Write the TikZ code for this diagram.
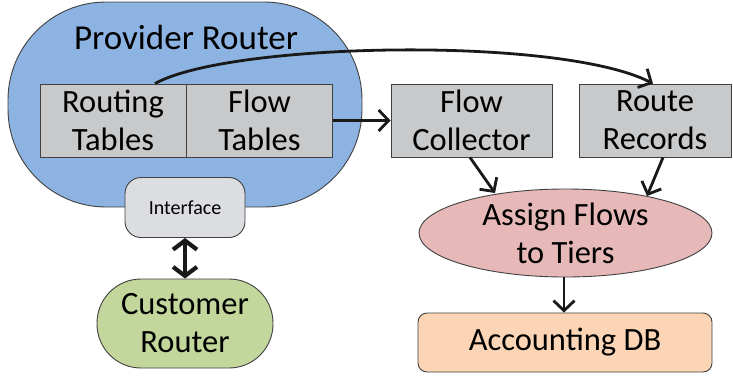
\documentclass[tikz,border=0pt]{standalone}
\usepackage{fontspec}
\setmainfont{Carlito}
\usetikzlibrary{arrows.meta,shapes.geometric}
\definecolor{provblue}{HTML}{8DB3E2}
\definecolor{boxgray}{HTML}{C8C9CB}
\definecolor{ifgray}{HTML}{DCDDE0}
\definecolor{custgreen}{HTML}{C3D69B}
\definecolor{assignpink}{HTML}{E6B9B8}
\definecolor{dbpeach}{HTML}{FBD5B5}
\definecolor{edge}{HTML}{404040}
\tikzset{
  x=1pt, y=-1pt,
  bigtext/.style={font=\fontsize{32.5}{38}\selectfont},
  tablebox/.style={draw=edge, line width=0.9pt, fill=boxgray, minimum width=146pt, minimum height=73pt, inner sep=0pt, align=center, bigtext},
  conn/.style={line width=2.8pt, draw=black!90, -{Straight Barb[length=10pt,width=21pt,line width=2.8pt]}},
}
\begin{document}
\begin{tikzpicture}
\useasboundingbox (0,0) rectangle (733,375);
% provider router blob
\node[draw=edge, line width=0.9pt, fill=provblue, rounded corners=98pt, minimum width=354pt, minimum height=205pt, inner sep=0pt] (provider) at (185,104.5) {};
\node[font=\fontsize{35}{40}\selectfont, anchor=center] (ptitle) at (186,37) {Provider Router};
% tables
\node[tablebox] (rt) at (113,120.5) {Routing\\Tables};
\node[tablebox] (ft) at (259.5,120.5) {Flow\\Tables};
% interface
\node[draw=edge, line width=0.9pt, fill=ifgray, rounded corners=16pt, minimum width=120pt, minimum height=60pt, inner sep=0pt, font=\fontsize{20}{24}\selectfont] (iface) at (185,207.5) {Interface};
% customer router
\node[draw=edge, line width=0.9pt, fill=custgreen, rounded corners=44pt, minimum width=176pt, minimum height=89pt, inner sep=0pt, align=center, bigtext] (cust) at (185,323.5) {Customer\\Router};
% flow collector & route records
\node[tablebox, minimum width=161pt] (fc) at (471.5,120.5) {Flow\\Collector};
\node[tablebox, minimum width=152pt] (rr) at (655,120.5) {Route\\Records};
% assign flows
\node[ellipse, draw=edge, line width=0.9pt, fill=assignpink, minimum width=293pt, minimum height=88pt, inner sep=0pt, align=center, bigtext] (assign) at (565.5,233) {Assign Flows\\to Tiers};
% accounting db
\node[draw=edge, line width=0.9pt, fill=dbpeach, rounded corners=9pt, minimum width=294pt, minimum height=59pt, inner sep=0pt, bigtext] (db) at (565,342.5) {Accounting DB};
% connectors
\draw[conn] ([xshift=42pt]rt.north) .. controls (230,42) and (560,36) .. ([xshift=-2pt]rr.north);
\draw[conn] (ft.east) -- (fc.west);
\draw[conn] ([xshift=-1.5pt]fc.south) -- (495,193);
\draw[conn] ([xshift=8pt]rr.south) -- (647,196);
\draw[conn] ([xshift=-1.5pt]assign.south) -- ([xshift=-1pt]db.north);
\draw[line width=4.2pt, draw=black!90, {Straight Barb[length=9pt,width=24pt,line width=4.2pt]}-{Straight Barb[length=9pt,width=24pt,line width=4.2pt]}] (iface.south) -- (cust.north);
\end{tikzpicture}
\end{document}
